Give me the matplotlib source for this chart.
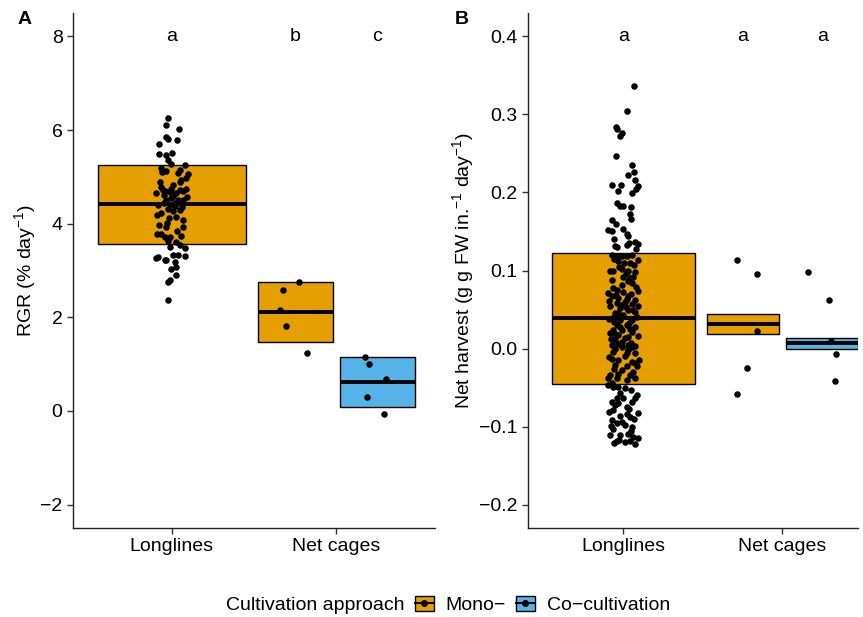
import matplotlib
matplotlib.use("Agg")
import matplotlib.pyplot as plt
from matplotlib.lines import Line2D
from matplotlib.patches import Patch
import numpy as np

plt.rcParams["font.family"] = ["Liberation Sans", "DejaVu Sans"]
plt.rcParams["mathtext.fontset"] = "custom"
plt.rcParams["mathtext.rm"] = "Liberation Sans"
plt.rcParams["mathtext.it"] = "Liberation Sans:italic"

# ---- data -----------------------------------------------------------------
categories = ["Longlines", "Net cages"]
approaches = ["Mono\u2212", "Co\u2212cultivation"]
fill = {"mono": "#E69F00", "co": "#56B4E9"}

# crossbars: (lower, middle, upper)
rgr_box = {"ll": (3.57, 4.42, 5.26), "nc_mono": (1.48, 2.12, 2.76), "nc_co": (0.09, 0.62, 1.15)}
nh_box = {"ll": (-0.046, 0.039, 0.123), "nc_mono": (0.019, 0.032, 0.044), "nc_co": (0.0, 0.0075, 0.014)}

rgr_letters = ["a", "b", "c"]
nh_letters = ["a", "a", "a"]

# individual observations as (value, horizontal jitter)
rgr_ll = [
    (6.25, -0.022), (6.11, -0.036), (6.03, 0.044), (5.86, -0.032), (5.81, -0.022), (5.78, 0.032),
    (5.71, -0.077), (5.51, 0.004), (5.49, -0.079), (5.47, -0.036), (5.36, -0.022), (5.28, -0.002),
    (5.26, 0.079), (5.19, -0.063), (5.11, -0.057), (5.13, -0.032), (5.14, 0.048), (5.08, 0.038),
    (5.07, 0.099), (4.97, 0.089), (4.94, 0.059), (4.83, 0.008), (4.78, -0.063), (4.72, -0.053),
    (4.73, 0.048), (4.75, -0.002), (4.75, 0.089), (4.65, -0.097), (4.69, -0.042), (4.65, 0.028),
    (4.69, 0.069), (4.59, 0.008), (4.51, -0.032), (4.55, -0.002), (4.51, 0.038), (4.50, 0.069),
    (4.44, -0.048), (4.40, -0.012), (4.37, 0.018), (4.29, 0.048), (4.32, -0.022), (4.27, 0.008),
    (4.22, -0.063), (4.18, -0.089), (4.12, -0.016), (4.15, 0.028), (4.08, 0.069), (3.97, -0.079),
    (3.93, 0.069), (3.92, -0.032), (3.78, -0.089), (3.79, -0.063), (3.72, -0.042), (3.72, -0.012),
    (3.74, 0.059), (3.62, -0.022), (3.60, 0.028), (3.55, 0.048), (3.48, 0.079), (3.50, -0.012),
    (3.33, 0.008), (3.33, 0.038), (3.31, 0.079), (3.26, -0.093), (3.29, -0.083), (3.22, -0.042),
    (3.23, -0.032), (3.19, 0.018), (3.08, 0.028), (3.03, -0.002), (2.91, 0.024), (2.80, -0.012),
    (2.76, -0.022), (2.36, -0.022), (4.62, -0.050), (4.45, 0.020), (4.90, -0.070), (4.35, 0.060),
    (4.02, -0.030), (4.58, 0.090), (4.68, -0.010), (4.90, 0.050), (4.40, -0.085), (3.85, 0.030),
]
rgr_nc_mono = [(2.76, 0.024), (2.59, -0.073), (2.16, -0.090), (1.82, -0.055), (1.23, 0.073)]
rgr_nc_co = [(1.16, -0.076), (1.00, -0.052), (0.68, 0.050), (0.29, -0.062), (-0.07, 0.041)]

nh_ll = [
    (0.337, 0.068), (0.305, 0.022), (0.284, -0.047), (0.281, -0.039), (0.273, -0.022), (0.276, -0.009),
    (0.247, -0.047), (0.235, 0.052), (0.226, 0.066), (0.222, 0.026), (0.210, -0.074), (0.210, -0.018),
    (0.216, 0.072), (0.208, 0.093), (0.205, 0.079), (0.202, -0.033), (0.199, 0.052), (0.187, -0.043),
    (0.183, -0.022), (0.183, -0.005), (0.182, 0.045), (0.172, 0.041), (0.166, 0.047), (0.165, -0.070),
    (0.159, -0.047), (0.152, -0.096), (0.150, -0.074), (0.153, -0.001), (0.147, 0.020), (0.144, 0.030),
    (0.141, -0.058), (0.135, 0.037), (0.136, 0.072), (0.134, 0.093), (0.130, -0.043),
    (0.133, 0.020), (0.127, 0.081), (0.131, -0.050),
    (0.120, -0.074), (0.118, -0.043), (0.119, -0.011), (0.119, 0.020), (0.120, 0.052),
    (0.112, -0.033), (0.110, 0.005), (0.110, 0.041), (0.113, 0.089),
    (0.100, -0.064), (0.102, -0.011), (0.100, 0.026), (0.098, 0.072),
    (0.092, -0.001), (0.090, 0.041), (0.084, 0.052),
    (0.077, -0.064), (0.075, -0.043), (0.071, -0.096), (0.073, -0.001),
    (0.067, -0.074), (0.065, -0.033), (0.067, 0.030), (0.062, 0.072),
    (0.058, -0.043), (0.060, 0.009), (0.057, 0.052), (0.054, 0.093), (0.054, -0.085),
    (0.052, -0.022), (0.050, 0.030), (0.045, -0.053), (0.047, 0.072), (0.043, -0.001),
    (0.039, -0.074), (0.037, -0.022), (0.037, 0.052), (0.030, -0.043), (0.030, 0.020),
    (0.024, -0.064), (0.024, -0.011), (0.025, 0.041), (0.020, -0.085), (0.017, -0.033),
    (0.015, 0.030), (0.011, -0.053), (0.009, -0.011), (0.005, 0.030), (0.003, 0.072), (0.005, -0.074),
    (0.002, -0.011), (0.002, 0.052), (-0.004, -0.064), (-0.006, 0.020), (-0.006, 0.072),
    (-0.013, -0.074), (-0.015, -0.033), (-0.017, 0.052), (-0.021, -0.053), (-0.023, 0.020),
    (-0.023, 0.083), (-0.028, -0.011), (-0.034, -0.085), (-0.032, -0.033), (-0.034, 0.041),
    (-0.038, 0.072), (-0.038, -0.096), (-0.038, -0.043), (-0.049, -0.064), (-0.049, -0.033),
    (-0.050, 0.009), (-0.064, -0.043), (-0.068, -0.074), (-0.070, -0.033), (-0.064, 0.072),
    (-0.068, 0.052), (-0.075, 0.020), (-0.079, -0.064), (-0.083, 0.093), (-0.086, -0.022),
    (-0.088, 0.041), (-0.092, -0.074), (-0.096, -0.043), (-0.098, 0.009), (-0.101, 0.052),
    (-0.111, -0.085), (-0.111, -0.022), (-0.109, 0.030), (-0.114, 0.062), (-0.118, -0.043),
    (-0.120, 0.009), (-0.122, 0.072),
    (0.115, -0.060), (0.107, 0.065), (0.104, -0.025), (0.095, 0.015), (0.088, -0.070), (0.086, 0.030),
    (0.081, -0.010), (0.079, 0.080), (0.070, 0.045), (0.068, -0.045), (0.063, 0.020), (0.061, -0.090),
    (0.056, -0.015), (0.049, 0.060), (0.046, -0.035), (0.041, 0.085), (0.034, -0.060), (0.033, 0.035),
    (0.028, 0.075), (0.027, -0.020), (0.021, 0.055), (0.019, -0.050), (0.013, 0.010), (0.012, -0.080),
    (0.007, 0.045), (0.006, -0.035), (-0.001, -0.050), (-0.002, 0.030), (-0.009, 0.008), (-0.011, -0.090),
    (-0.019, 0.070), (-0.026, -0.060), (-0.030, 0.060), (-0.040, 0.020), (-0.044, -0.070), (-0.053, 0.050),
    (-0.057, -0.020), (-0.060, 0.085), (-0.072, -0.050), (-0.077, 0.035), (-0.081, -0.090), (-0.090, 0.065),
    (-0.094, -0.010), (-0.103, -0.065), (-0.106, 0.045), (-0.115, 0.090), (-0.117, -0.030), (0.100, -0.085),
    (0.092, 0.060), (0.074, 0.090), (0.053, 0.015), (0.038, -0.090), (0.016, 0.090), (-0.015, 0.095),
    (-0.047, -0.095), (-0.064, -0.005), (-0.084, 0.020), (-0.099, -0.080), (-0.119, 0.040), (-0.121, -0.060),
]
nh_nc_mono = [(0.114, -0.033), (0.095, 0.088), (0.023, 0.088), (-0.025, 0.030), (-0.058, -0.038)]
nh_nc_co = [(0.098, -0.088), (0.062, 0.044), (0.010, 0.057), (-0.0075, 0.084), (-0.041, 0.080)]

# ---- drawing ----------------------------------------------------------------
FS = 14
fig = plt.figure(figsize=(8.63, 6.17), dpi=100)
axA = fig.add_axes([73 / 863, 1 - 528 / 617, (435 - 73) / 863, (528 - 13) / 617])
axB = fig.add_axes([528 / 863, 1 - 528 / 617, (858 - 528) / 863, (528 - 13) / 617])

x_pos = {"ll": 1.0, "nc_mono": 1.75, "nc_co": 2.25}
widths = {"ll": 0.9, "nc_mono": 0.455, "nc_co": 0.455}
box_fill = {"ll": fill["mono"], "nc_mono": fill["mono"], "nc_co": fill["co"]}


def draw_panel(ax, boxes, pts, letters, letter_y):
    for key, (lo, mid, hi) in boxes.items():
        x, w = x_pos[key], widths[key]
        ax.bar(x, hi - lo, bottom=lo, width=w, color=box_fill[key],
               edgecolor="black", linewidth=1.0, zorder=2)
        ax.hlines(mid, x - w / 2, x + w / 2, color="black", lw=2.8, zorder=3)
    for key, obs in pts.items():
        v = np.array([o[0] for o in obs])
        j = np.array([o[1] for o in obs])
        ax.scatter(x_pos[key] + j, v, s=22, color="black", zorder=4, linewidths=0)
    for key, lab in zip(["ll", "nc_mono", "nc_co"], letters):
        ax.text(x_pos[key], letter_y, lab, ha="center", va="center", fontsize=FS)
    ax.set_xticks([1, 2])
    ax.set_xticklabels(categories, fontsize=FS)
    for s in ("top", "right"):
        ax.spines[s].set_visible(False)
    for s in ("left", "bottom"):
        ax.spines[s].set_linewidth(1.0)
        ax.spines[s].set_color("#222222")
    ax.tick_params(labelsize=FS, length=4, width=1.0, color="#333333", labelcolor="black")


draw_panel(axA, rgr_box, {"ll": rgr_ll, "nc_mono": rgr_nc_mono, "nc_co": rgr_nc_co},
           rgr_letters, 8)
axA.set_xlim(0.4, 2.6)
axA.set_ylim(-2.5, 8.5)
axA.set_yticks([-2, 0, 2, 4, 6, 8])
axA.set_yticklabels(["\u22122", "0", "2", "4", "6", "8"])
axA.set_ylabel(r"RGR (% day$^{-1}$)", fontsize=FS)
axA.yaxis.set_label_coords((38 - 73) / 362, 0.5)

draw_panel(axB, nh_box, {"ll": nh_ll, "nc_mono": nh_nc_mono, "nc_co": nh_nc_co},
           nh_letters, 0.4)
axB.set_xlim(0.4, 2.475)
axB.set_ylim(-0.23, 0.43)
yt = [-0.2, -0.1, 0.0, 0.1, 0.2, 0.3, 0.4]
axB.set_yticks(yt)
axB.set_yticklabels([f"{t:.1f}".replace("-", "\u2212") for t in yt])
axB.set_ylabel(r"Net harvest (g g FW in.$^{-1}$ day$^{-1}$)", fontsize=FS)
axB.yaxis.set_label_coords((476 - 528) / 330, 0.5)

fig.text(18 / 863, 1 - 20 / 617, "A", fontsize=FS, fontweight="bold", ha="left", va="center")
fig.text(455 / 863, 1 - 20 / 617, "B", fontsize=FS, fontweight="bold", ha="left", va="center")

# legend
handles = [
    (Patch(facecolor=fill["mono"], edgecolor="black", linewidth=1.0),
     Line2D([], [], color="black", lw=1.5, marker="o", markersize=4)),
    (Patch(facecolor=fill["co"], edgecolor="black", linewidth=1.0),
     Line2D([], [], color="black", lw=1.5, marker="o", markersize=4)),
]
fig.text(226 / 863, 1 - 605 / 617, "Cultivation approach", fontsize=FS, ha="left", va="center")
fig.legend(handles, approaches, loc="center left", bbox_to_anchor=(397 / 863, 1 - 605 / 617),
           ncol=2, frameon=False, fontsize=FS, handlelength=1.0, handleheight=0.8,
           columnspacing=0.5, handletextpad=0.6)

fig.savefig("out.png", dpi=100)
